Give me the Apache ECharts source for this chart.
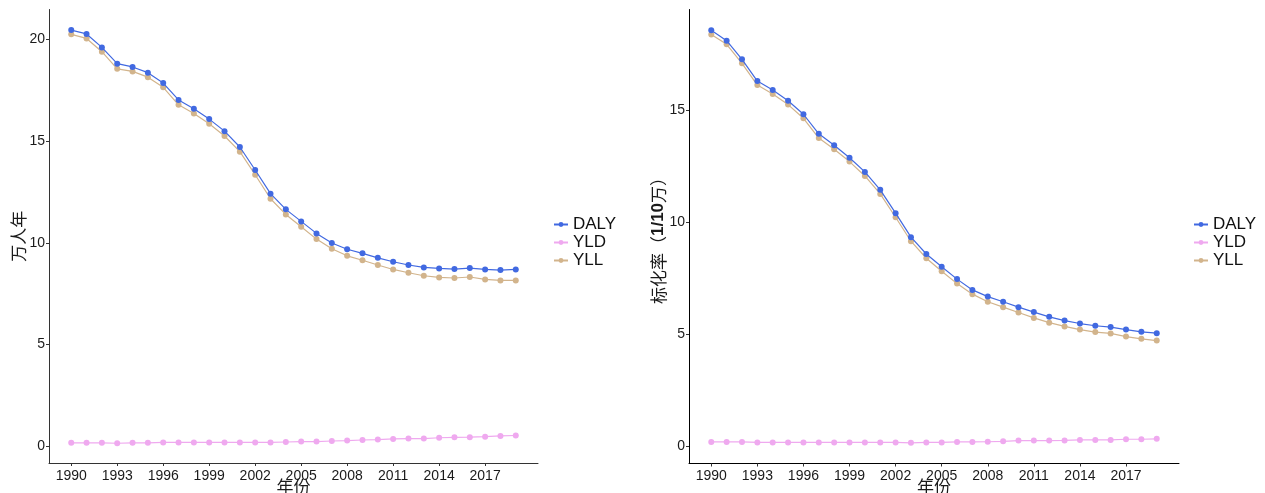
<!DOCTYPE html>
<html>
<head>
<meta charset="utf-8">
<script src="https://cdn.jsdelivr.net/npm/echarts@6/dist/echarts.min.js"></script>
<style>
  html, body { margin: 0; padding: 0; background: #fff; }
  #chart { width: 1265px; height: 493px; }
</style>
</head>
<body>
<div id="chart"></div>
<script>
// years 1990-2019
const years = [1990,1991,1992,1993,1994,1995,1996,1997,1998,1999,2000,2001,2002,2003,2004,
  2005,2006,2007,2008,2009,2010,2011,2012,2013,2014,2015,2016,2017,2018,2019]
const xTicks = [1990,1993,1996,1999,2002,2005,2008,2011,2014,2017]

// left panel: 万人年
const dalyNum = [20.44,20.25,19.59,18.79,18.63,18.35,17.84,17.01,16.58,16.07,15.48,14.70,13.57,12.41,11.64,
  11.05,10.46,9.99,9.68,9.48,9.26,9.07,8.91,8.79,8.74,8.71,8.76,8.69,8.66,8.69]
const yldNum = [0.18,0.18,0.18,0.16,0.18,0.18,0.20,0.20,0.20,0.20,0.20,0.20,0.20,0.20,0.22,
  0.24,0.24,0.27,0.29,0.32,0.34,0.37,0.39,0.39,0.43,0.45,0.46,0.48,0.52,0.54]
const yllNum = [20.23,20.03,19.38,18.54,18.41,18.13,17.63,16.77,16.35,15.84,15.24,14.47,13.34,12.16,11.39,
  10.79,10.18,9.71,9.36,9.14,8.91,8.69,8.53,8.38,8.30,8.27,8.32,8.20,8.15,8.15]
const yTicksNum = [0,5,10,15,20]

// right panel: 标化率（1/10万）
const dalyRate = [18.55,18.08,17.25,16.28,15.88,15.40,14.80,13.93,13.42,12.86,12.23,11.43,10.39,9.32,8.57,
  8.00,7.45,6.97,6.67,6.44,6.20,5.98,5.77,5.60,5.47,5.37,5.31,5.20,5.10,5.04]
const yldRate = [0.19,0.19,0.19,0.17,0.17,0.17,0.17,0.17,0.17,0.17,0.17,0.17,0.17,0.15,0.17,
  0.17,0.19,0.19,0.20,0.22,0.25,0.25,0.25,0.26,0.28,0.28,0.28,0.31,0.31,0.33]
const yllRate = [18.36,17.92,17.07,16.10,15.70,15.23,14.62,13.74,13.24,12.69,12.05,11.25,10.21,9.14,8.38,
  7.80,7.25,6.78,6.44,6.20,5.96,5.72,5.51,5.34,5.20,5.09,5.03,4.89,4.79,4.71]
const yTicksRate = [0,5,10,15]

const colors = { DALY: '#4169e1', YLD: '#efa9ef', YLL: '#d2b48c' }
const font = 'Liberation Sans, Arial, sans-serif'
const cjk = 'Noto Sans CJK SC, sans-serif'

function pairs(v) {
  return years.map((y, i) => [y, v[i]])
}

function xAxisOf(idx, lineColor) {
  return {
    type: 'value', gridIndex: idx, min: 1988.55, max: 2020.45,
    name: '年份', nameLocation: 'middle', nameGap: 15, nameMoveOverlap: false,
    nameTextStyle: { fontFamily: cjk, fontSize: 17, color: '#1a1a1a' },
    axisLine: { show: true, onZero: false, lineStyle: { color: lineColor, width: 1 } },
    axisTick: { show: true, length: 3, customValues: xTicks, lineStyle: { color: '#333' } },
    axisLabel: {
      customValues: xTicks, margin: 6, fontFamily: font, fontSize: 14, color: '#1a1a1a',
      formatter: v => String(v)
    },
    splitLine: { show: false }
  }
}

function yAxisOf(idx, min, max, ticks, name, gap, lineColor) {
  return {
    type: 'value', gridIndex: idx, min: min, max: max,
    name: name, nameLocation: 'middle', nameGap: gap, nameMoveOverlap: false,
    nameTextStyle: {
      fontFamily: cjk, fontSize: 17, color: '#1a1a1a',
      rich: { b: { fontFamily: font, fontWeight: 'bold', fontSize: 17, color: '#1a1a1a' } }
    },
    axisLine: { show: true, onZero: false, lineStyle: { color: lineColor, width: 1 } },
    axisTick: { show: true, length: 3, customValues: ticks, lineStyle: { color: '#333' } },
    axisLabel: { customValues: ticks, margin: 4, fontFamily: font, fontSize: 14, color: '#1a1a1a' },
    splitLine: { show: false }
  }
}

function seriesOf(name, data, idx) {
  return {
    name: name, type: 'line', xAxisIndex: idx, yAxisIndex: idx,
    data: pairs(data), symbol: 'circle', symbolSize: 6, showSymbol: true,
    lineStyle: { color: colors[name], width: 1.2 },
    itemStyle: { color: colors[name] },
    emphasis: { disabled: true }, animation: false, z: name === 'DALY' ? 3 : 2
  }
}

function legendOf(left) {
  return {
    orient: 'vertical', left: left, top: 211,
    data: ['DALY', 'YLD', 'YLL'],
    itemWidth: 14, itemHeight: 6, itemGap: 1,
    textStyle: { fontFamily: font, fontSize: 17, color: '#111', lineHeight: 15.5 },
    selectedMode: false
  }
}

const chart = echarts.init(document.getElementById('chart'))
chart.setOption({
  backgroundColor: '#fff',
  animation: false,
  grid: [
    { left: 49, top: 9.5, width: 489, height: 453.5, outerBoundsMode: 'none', containLabel: false },
    { left: 689, top: 9.5, width: 490, height: 454, outerBoundsMode: 'none', containLabel: false }
  ],
  xAxis: [xAxisOf(0, '#333'), xAxisOf(1, '#000')],
  yAxis: [
    yAxisOf(0, -0.81, 21.45, yTicksNum, '万人年', 22, '#333'),
    yAxisOf(1, -0.77, 19.47, yTicksRate, '标化率（{b|1/10}万）', 22, '#000')
  ],
  legend: [legendOf(548), legendOf(1188)],
  series: [
    seriesOf('YLD', yldNum, 0),
    seriesOf('YLL', yllNum, 0),
    seriesOf('DALY', dalyNum, 0),
    seriesOf('YLD', yldRate, 1),
    seriesOf('YLL', yllRate, 1),
    seriesOf('DALY', dalyRate, 1)
  ]
})
</script>
</body>
</html>
